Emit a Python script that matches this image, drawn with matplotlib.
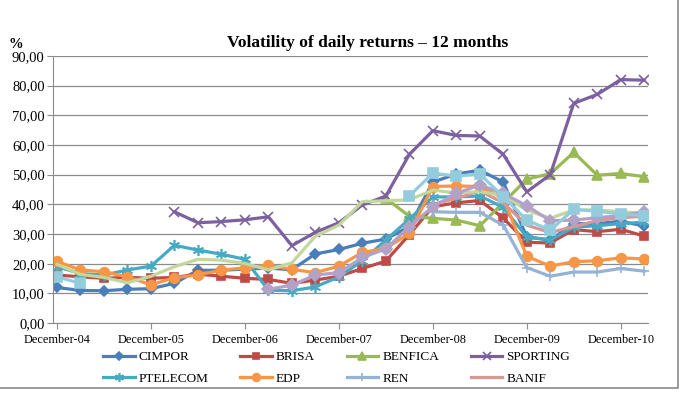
import numpy as np
import matplotlib
matplotlib.use("Agg")
import matplotlib.pyplot as plt
from matplotlib.patches import Rectangle
from matplotlib.ticker import FuncFormatter, MultipleLocator

nan = np.nan

# quarterly points, Dec-04 .. Mar-11
tick_labels = ["December-04", "December-05", "December-06", "December-07",
               "December-08", "December-09", "December-10"]

cimpor = [12.0, 11.0, 10.9, 11.4, 11.6, 13.4, 17.8, 17.8, 18.2, 18.5, 18.0, 23.3, 24.8,
          26.9, 28.3, 32.5, 47.5, 50.2, 51.5, 47.5, 29.0, 28.0, 33.5, 33.5, 34.3, 32.7]
brisa = [16.2, 15.6, 15.1, 15.4, 15.1, 15.4, 16.5, 15.8, 15.1, 14.7, 13.4, 14.5, 15.8,
         18.4, 20.9, 29.8, 39.2, 40.5, 41.3, 35.4, 27.2, 27.0, 31.5, 30.8, 31.6, 29.3]
benfica = [nan] * 14 + [42.0, 36.0, 35.3, 34.7, 32.8, 40.5, 48.5, 50.3, 57.5, 49.8, 50.4, 49.3]
sporting = [nan] * 5 + [37.5, 33.8, 34.2, 34.8, 35.8, 26.1, 30.6, 33.8, 39.8, 42.8, 56.8,
                        64.8, 63.2, 63.0, 56.8, 44.2, 50.0, 74.0, 77.0, 82.0, 81.8]
ptelecom = [19.0, 16.7, 16.2, 17.9, 19.2, 26.2, 24.6, 23.2, 21.5, 11.1, 10.9, 12.2, 15.6,
            21.0, 28.0, 35.0, 42.5, 42.5, 42.8, 39.0, 29.0, 28.0, 32.3, 32.8, 33.5, 34.0]
edp = [20.8, 17.9, 17.3, 15.6, 12.9, 15.3, 16.2, 17.9, 18.6, 19.5, 18.1, 17.0, 19.2,
       23.8, 25.2, 30.2, 46.0, 46.2, 46.0, 42.0, 22.5, 19.2, 20.7, 21.0, 22.0, 21.6]
ren = [nan] * 16 + [37.5, 37.3, 37.3, 33.0, 18.7, 15.8, 17.2, 17.2, 18.4, 17.5]
banif = [nan] * 16 + [40.0, 42.0, 44.5, 40.5, 33.0, 30.5, 32.5, 34.5, 35.5, 36.0]
# series without a legend entry
light_green = [19.8, 16.4, 15.4, 13.6, 15.8, 19.0, 21.5, 21.2, 20.1, 17.9, 20.3, 29.3, 33.0,
               40.9, 41.2, 41.5, 44.8, 43.8, 44.3, 43.0, 38.0, 35.3, 38.1, 38.1, 37.5, 37.0]
lavender = [nan] * 9 + [11.4, 12.8, 16.2, 17.0, 22.1, 25.0, 32.5, 39.2, 43.7, 46.5, 43.7,
                        39.5, 34.5, 34.7, 35.5, 36.2, 37.5]
aqua = [15.6, 13.4] + [nan] * 13 + [42.8, 50.5, 49.5, 50.2, 42.6, 34.7, 31.3, 38.3, 37.7,
                                    36.7, 36.2]

plt.rcParams["font.family"] = "Liberation Serif"

series = [
    ("CIMPOR", cimpor, "#4A7EBB", "D", 5.5),
    ("BRISA", brisa, "#BE4B48", "s", 6),
    ("BENFICA", benfica, "#98B954", "^", 7),
    ("SPORTING", sporting, "#7D60A0", "x", 7),
    ("PTELECOM", ptelecom, "#46AAC5", (6, 2, 0), 8),
    ("EDP", edp, "#F79646", "o", 7),
    ("REN", ren, "#95B3D7", "+", 7),
    ("BANIF", banif, "#D99694", "_", 7),
    ("_nolegend_", light_green, "#C3D69B", None, 0),
    ("_nolegend_", lavender, "#B3A2C7", "D", 6),
    ("_nolegend_", aqua, "#93CDDD", "s", 7),
]

fig = plt.figure(figsize=(6.84, 3.96), dpi=100)
ax = fig.add_axes([0.0775, 0.184, 0.8695, 0.675])

x = np.arange(len(cimpor))
handles = []
for name, vals, color, marker, ms in series:
    line, = ax.plot(x, vals, color=color, lw=2.3, marker=marker, ms=ms, mec=color, mfc=color,
                    mew=1.2, label=name)
    if name != "_nolegend_":
        handles.append(line)

ax.set_xlim(-0.17, 25.15)
ax.set_ylim(0, 90)
ax.yaxis.set_major_locator(MultipleLocator(10))
ax.yaxis.set_major_formatter(FuncFormatter(lambda v, p: f"{v:.2f}".replace(".", ",")))
ax.set_xticks(np.arange(0, len(cimpor), 4))
ax.set_xticklabels(tick_labels, fontsize=8.8)
ax.tick_params(axis="y", labelsize=10.5, length=4, color="#8c8c8c", pad=2)
ax.tick_params(axis="x", length=4, color="#8c8c8c", pad=4)
ax.grid(axis="y", color="#8c8c8c", lw=0.9)
ax.set_axisbelow(True)
for side in ["top", "right"]:
    ax.spines[side].set_visible(False)
for side in ["left", "bottom"]:
    ax.spines[side].set_color("#8c8c8c")

fig.text(0.538, 0.891, "Volatility of daily returns \u2013 12 months", ha="center", va="center",
         fontsize=12.5, fontweight="bold")
fig.text(0.012, 0.888, "%", ha="left", va="center", fontsize=10.5, fontweight="bold")

# legend filled row by row: 4 per row
order = [0, 4, 1, 5, 2, 6, 3, 7]
fig.legend([handles[i] for i in order], [handles[i].get_label() for i in order],
           loc="center", bbox_to_anchor=(0.492, 0.071), ncol=4, frameon=False, fontsize=9.5,
           handlelength=2.4, columnspacing=2.4, labelspacing=0.7, handletextpad=0.3,
           markerscale=0.8)

fig.patches.append(Rectangle((-0.01, 1 - 388 / 396), 678 / 684 + 0.01, 1.0,
                             transform=fig.transFigure, fill=False, ec="#8a8a8a", lw=1.2))

fig.savefig("out.png", dpi=100)
